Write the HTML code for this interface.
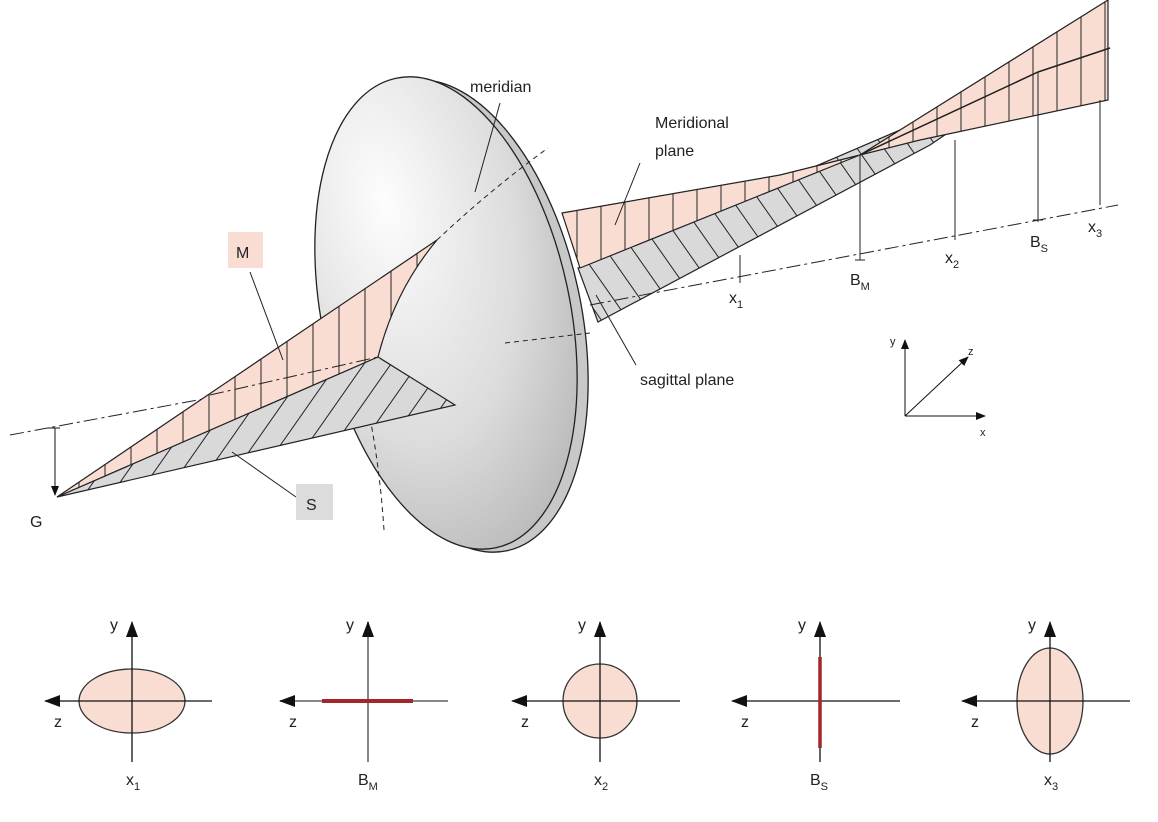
<!DOCTYPE html>
<html><head><meta charset="utf-8"><style>
html,body{margin:0;padding:0;background:#fff;}
svg{display:block;font-family:"Liberation Sans",sans-serif;}
</style></head><body>
<svg width="1158" height="822" viewBox="0 0 1158 822" xmlns="http://www.w3.org/2000/svg">
<defs>
<pattern id="pv" width="26" height="10" patternUnits="userSpaceOnUse">
<rect width="26" height="10" fill="#f9ddd3"/><line x1="1" y1="0" x2="1" y2="10" stroke="#222" stroke-width="1"/></pattern>
<pattern id="pv2" width="24" height="10" patternUnits="userSpaceOnUse">
<rect width="24" height="10" fill="#f9ddd3"/><line x1="1" y1="0" x2="1" y2="10" stroke="#222" stroke-width="1"/></pattern>
<pattern id="gd" width="22" height="22" patternUnits="userSpaceOnUse" patternTransform="rotate(35)">
<rect width="22" height="22" fill="#d9d9d9"/><line x1="1" y1="0" x2="1" y2="22" stroke="#222" stroke-width="1"/></pattern>
<pattern id="gd2" width="22" height="22" patternUnits="userSpaceOnUse" patternTransform="rotate(-35)">
<rect width="22" height="22" fill="#d9d9d9"/><line x1="1" y1="0" x2="1" y2="22" stroke="#222" stroke-width="1"/></pattern>
<radialGradient id="lg" cx="0.35" cy="0.25" r="0.85">
<stop offset="0" stop-color="#fdfdfd"/><stop offset="0.6" stop-color="#dcdcdc"/><stop offset="1" stop-color="#b5b5b5"/></radialGradient>
<marker id="ah" markerWidth="10" markerHeight="10" refX="9" refY="5" orient="auto" markerUnits="userSpaceOnUse">
<path d="M0,1 L10,5 L0,9 z" fill="#111"/></marker>
<marker id="ah2" markerWidth="16" markerHeight="12" refX="15" refY="6" orient="auto" markerUnits="userSpaceOnUse">
<path d="M0,0 L16,6 L0,12 z" fill="#111"/></marker>
</defs>

<line x1="10" y1="435" x2="455" y2="352" stroke="#222" stroke-width="1" stroke-dasharray="14,4,3,4"/>
<line x1="55" y1="428" x2="55" y2="495" stroke="#111" marker-end="url(#ah)"/>
<line x1="48" y1="428" x2="60" y2="428" stroke="#111"/>

<ellipse cx="457" cy="316" rx="124" ry="240" transform="rotate(-12 457 316)" fill="#c8c8c8" stroke="#222" stroke-width="1.3"/>
<ellipse cx="446" cy="313" rx="124" ry="240" transform="rotate(-12 446 313)" fill="url(#lg)" stroke="#222" stroke-width="1.3"/>

<path d="M437,240 Q490,190 548,148" fill="none" stroke="#222" stroke-dasharray="5,4"/>
<line x1="505" y1="343" x2="590" y2="333" stroke="#222" stroke-dasharray="5,4"/>
<path d="M370,418 Q380,470 384,530" fill="none" stroke="#222" stroke-dasharray="5,4"/>

<path d="M57,497 L437,240 Q395,290 378,357 Z" fill="url(#pv)" stroke="#222" stroke-width="1.2"/>
<line x1="210" y1="395" x2="378" y2="357" stroke="#222" stroke-dasharray="14,4,3,4"/>
<path d="M57,497 L378,357 L455,405 Z" fill="url(#gd)" stroke="#222" stroke-width="1.2"/>

<path d="M578,268 L900,130 L1038,72 L1110,48 L1035,74 L930,145 L598,322 Z" fill="url(#gd2)" stroke="#222" stroke-width="1.2"/>
<path d="M562,213 L780,175 L860,155 L580,268 Z" fill="url(#pv2)" stroke="#222" stroke-width="1.2"/>
<path d="M860,155 L1108,0 L1108,100 L920,140 Z" fill="url(#pv2)" stroke="#222" stroke-width="1.2"/>
<path d="M860,155 L1038,72 L1110,48" fill="none" stroke="#222" stroke-width="1.5"/>

<line x1="590" y1="305" x2="1118" y2="205" stroke="#222" stroke-dasharray="14,4,3,4"/>
<g stroke="#222" stroke-width="1">
<line x1="740" y1="255" x2="740" y2="283"/>
<line x1="860" y1="155" x2="860" y2="260"/><line x1="855" y1="260" x2="865" y2="260"/>
<line x1="955" y1="140" x2="955" y2="240"/>
<line x1="1038" y1="72" x2="1038" y2="222"/><line x1="1033" y1="220" x2="1043" y2="220"/>
<line x1="1100" y1="100" x2="1100" y2="205"/>
</g>

<g font-size="16" fill="#222">
<text x="470" y="92">meridian</text>
<text x="655" y="128">Meridional</text>
<text x="655" y="156">plane</text>
<text x="640" y="385">sagittal plane</text>
<text x="729" y="303">x<tspan font-size="11" dy="5">1</tspan></text>
<text x="850" y="285">B<tspan font-size="11" dy="5">M</tspan></text>
<text x="945" y="263">x<tspan font-size="11" dy="5">2</tspan></text>
<text x="1030" y="247">B<tspan font-size="11" dy="5">S</tspan></text>
<text x="1088" y="232">x<tspan font-size="11" dy="5">3</tspan></text>
<text x="30" y="527">G</text>
</g>
<g stroke="#222" fill="none">
<line x1="500" y1="103" x2="475" y2="192"/>
<line x1="640" y1="163" x2="615" y2="225"/>
<line x1="636" y1="365" x2="596" y2="295"/>
<line x1="250" y1="272" x2="283" y2="360"/>
<line x1="296" y1="497" x2="232" y2="452"/>
</g>
<rect x="228" y="232" width="35" height="36" fill="#f9ddd3"/>
<text x="236" y="258" font-size="16" fill="#222">M</text>
<rect x="296" y="484" width="37" height="36" fill="#dcdcdc"/>
<text x="306" y="510" font-size="16" fill="#222">S</text>

<g stroke="#111">
<line x1="905" y1="416" x2="905" y2="340" marker-end="url(#ah)"/>
<line x1="905" y1="416" x2="985" y2="416" marker-end="url(#ah)"/>
<line x1="905" y1="416" x2="968" y2="357" marker-end="url(#ah)"/>
</g>
<g font-size="11" fill="#222"><text x="890" y="345">y</text><text x="968" y="355">z</text><text x="980" y="436">x</text></g>

<g font-size="16" fill="#222">
<ellipse cx="132" cy="701" rx="53" ry="32" fill="#f9ddd3" stroke="#333" stroke-width="1.3"/>
<line x1="132" y1="762" x2="132" y2="622" stroke="#111" stroke-width="1.3" marker-end="url(#ah2)"/>
<line x1="212" y1="701" x2="45" y2="701" stroke="#111" stroke-width="1.3" marker-end="url(#ah2)"/>
<text x="110" y="630">y</text><text x="54" y="727">z</text>
<text x="126" y="785">x<tspan font-size="11" dy="5">1</tspan></text>
<line x1="368" y1="762" x2="368" y2="622" stroke="#888" stroke-width="2" marker-end="url(#ah2)"/>
<line x1="448" y1="701" x2="280" y2="701" stroke="#888" stroke-width="2" marker-end="url(#ah2)"/>
<line x1="322" y1="701" x2="413" y2="701" stroke="#a3262a" stroke-width="4"/>
<text x="346" y="630">y</text><text x="289" y="727">z</text>
<text x="358" y="785">B<tspan font-size="11" dy="5">M</tspan></text>
<circle cx="600" cy="701" r="37" fill="#f9ddd3" stroke="#333" stroke-width="1.3"/>
<line x1="600" y1="762" x2="600" y2="622" stroke="#111" stroke-width="1.3" marker-end="url(#ah2)"/>
<line x1="680" y1="701" x2="512" y2="701" stroke="#111" stroke-width="1.3" marker-end="url(#ah2)"/>
<text x="578" y="630">y</text><text x="521" y="727">z</text>
<text x="594" y="785">x<tspan font-size="11" dy="5">2</tspan></text>
<line x1="820" y1="762" x2="820" y2="622" stroke="#111" stroke-width="1.3" marker-end="url(#ah2)"/>
<line x1="900" y1="701" x2="732" y2="701" stroke="#111" stroke-width="1.3" marker-end="url(#ah2)"/>
<line x1="820" y1="657" x2="820" y2="748" stroke="#a3262a" stroke-width="3.5"/>
<text x="798" y="630">y</text><text x="741" y="727">z</text>
<text x="810" y="785">B<tspan font-size="11" dy="5">S</tspan></text>
<ellipse cx="1050" cy="701" rx="33" ry="53" fill="#f9ddd3" stroke="#333" stroke-width="1.3"/>
<line x1="1050" y1="762" x2="1050" y2="622" stroke="#111" stroke-width="1.3" marker-end="url(#ah2)"/>
<line x1="1130" y1="701" x2="962" y2="701" stroke="#111" stroke-width="1.3" marker-end="url(#ah2)"/>
<text x="1028" y="630">y</text><text x="971" y="727">z</text>
<text x="1044" y="785">x<tspan font-size="11" dy="5">3</tspan></text>
</g>
</svg>
</body></html>
